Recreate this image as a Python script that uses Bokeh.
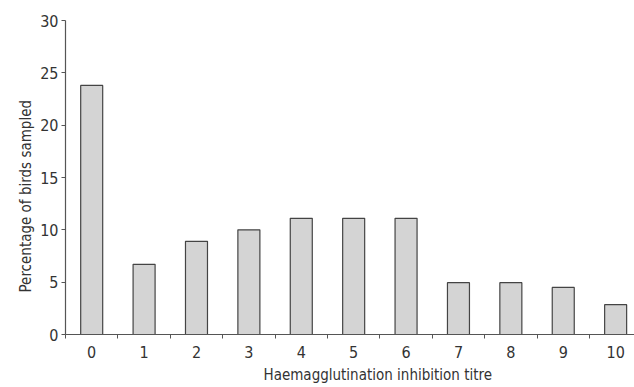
from bokeh.plotting import figure
from bokeh.models import FixedTicker, Range1d, Title
from bokeh.embed import file_html
from bokeh.resources import INLINE

titres = [0, 1, 2, 3, 4, 5, 6, 7, 8, 9, 10]
percentages = [23.8, 6.7, 8.9, 10.0, 11.1, 11.1, 11.1, 4.95, 4.95, 4.5, 2.85]
y_ticks = [0, 5, 10, 15, 20, 25, 30]
x_title = "Haemagglutination inhibition titre"
y_title = "Percentage of birds sampled"

FONT = "DejaVu Sans Condensed"
TEXT = "#333333"
AXIS = "#555555"

p = figure(width=634, height=387, output_backend="svg", toolbar_location=None,
           x_range=Range1d(-0.5, 10.36), y_range=Range1d(0, 30),
           min_border_left=65, min_border_right=0, min_border_top=20, min_border_bottom=53)
p.outline_line_color = None
p.grid.grid_line_color = None
p.background_fill_color = "white"

p.vbar(x=titres, top=percentages, width=0.42, bottom=0,
       fill_color="#d4d4d4", line_color="#444444", line_width=1.2)

xa = p.xaxis[0]
xa.ticker = FixedTicker(ticks=titres, minor_ticks=[t - 0.5 for t in titres])
xa.major_tick_out = 0
xa.major_tick_in = 0
xa.minor_tick_out = 4
xa.minor_tick_in = 0
xa.minor_tick_line_color = AXIS
xa.axis_line_color = AXIS
xa.major_label_standoff = 7

ya = p.yaxis[0]
ya.ticker = FixedTicker(ticks=y_ticks)
ya.major_tick_out = 4
ya.major_tick_in = 0
ya.minor_tick_out = 0
ya.minor_tick_in = 0
ya.major_tick_line_color = AXIS
ya.axis_line_color = AXIS
ya.major_label_standoff = 3

for ax in (xa, ya):
    ax.major_label_text_font = FONT
    ax.major_label_text_font_size = "16px"
    ax.major_label_text_color = TEXT
    ax.axis_line_width = 1.2

# axis titles, offset from the frame edge as in the reference
p.add_layout(Title(text=x_title, align="left", offset=198, standoff=6,
                   text_font=FONT, text_font_size="15px", text_font_style="normal",
                   text_color=TEXT), "below")
p.add_layout(Title(text=y_title, align="left", offset=42, standoff=6,
                   text_font=FONT, text_font_size="15px", text_font_style="normal",
                   text_color=TEXT), "left")

open("out.html", "w").write(file_html(p, INLINE))
